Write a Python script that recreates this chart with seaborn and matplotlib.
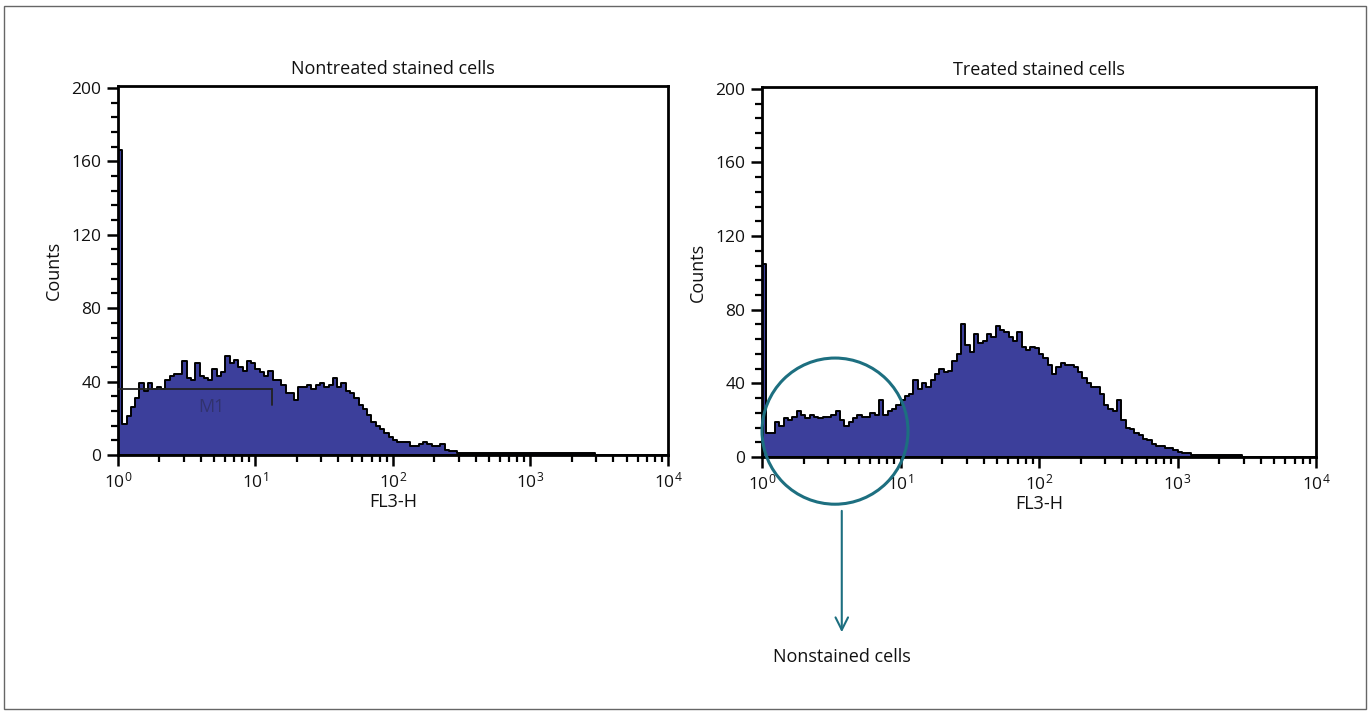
import numpy as np
import pandas as pd
import matplotlib
matplotlib.use("Agg")
import matplotlib.pyplot as plt
from matplotlib.patches import Ellipse, Rectangle
from matplotlib.ticker import LogLocator, MultipleLocator
import seaborn as sns

# histogram counts, 32 channels per decade on FL3-H (10^0 .. 10^4)
nontreated_counts = [
    166, 17, 21, 26, 31, 39, 35, 39, 36, 37, 36, 41, 43, 44, 44, 51,
    42, 41, 50, 43, 42, 41, 47, 43, 45, 54, 50, 52, 48, 46, 51, 50,
    47, 45, 43, 46, 41, 41, 38, 34, 34, 30, 37, 37, 38, 36, 38, 39,
    37, 38, 42, 37, 39, 35, 34, 31, 27, 25, 22, 18, 16, 14, 12, 10,
    8, 7, 7, 7, 5, 5, 6, 7, 6, 5, 5, 6, 3, 2, 2, 1,
    1, 1, 1, 1, 1, 1, 1, 1, 1, 1, 1, 1, 1, 1, 1, 1,
    1, 1, 1, 1, 1, 1, 1, 1, 1, 1, 1, 1, 1, 1, 1, 0,
    0, 0, 0, 0, 0, 0, 0, 0, 0, 0, 0, 0, 0, 0, 0, 0,
]
treated_counts = [
    105, 13, 13, 19, 17, 21, 20, 22, 25, 23, 21, 23, 22, 21, 22, 22,
    23, 25, 20, 17, 19, 21, 23, 22, 22, 24, 23, 31, 23, 25, 26, 28,
    31, 33, 34, 42, 37, 40, 38, 42, 45, 48, 46, 47, 52, 56, 72, 61,
    57, 67, 62, 63, 67, 65, 71, 69, 68, 65, 63, 68, 60, 58, 60, 59,
    56, 54, 50, 45, 49, 51, 50, 50, 49, 46, 43, 40, 38, 38, 34, 28,
    26, 25, 31, 20, 16, 15, 13, 12, 10, 9, 7, 6, 6, 5, 5, 4,
    3, 2, 2, 1, 1, 1, 1, 1, 1, 1, 1, 1, 1, 1, 1, 0,
    0, 0, 0, 0, 0, 0, 0, 0, 0, 0, 0, 0, 0, 0, 0, 0,
]
panel_titles = ["Nontreated stained cells", "Treated stained cells"]
y_ticks = [0, 40, 80, 120, 160, 200]
m1_level = 36
m1_end = 13.2

n_bins = len(nontreated_counts)
centers = 10 ** ((np.arange(n_bins) + 0.5) / 32)

df = pd.DataFrame({
    "FL3-H": np.concatenate([centers, centers]),
    "count": nontreated_counts + treated_counts,
    "sample": [panel_titles[0]] * n_bins + [panel_titles[1]] * n_bins,
})

sns.set_style("white")
plt.rcParams["font.family"] = ["Open Sans", "DejaVu Sans"]
plt.rcParams["mathtext.default"] = "regular"
plt.rcParams["text.color"] = "#111111"
plt.rcParams["axes.labelcolor"] = "#111111"
plt.rcParams["xtick.color"] = "black"
plt.rcParams["ytick.color"] = "black"
plt.rcParams["xtick.labelcolor"] = "#111111"
plt.rcParams["ytick.labelcolor"] = "#111111"

fig = plt.figure(figsize=(13.7, 7.15), dpi=100)
ax1 = fig.add_axes([0.0861, 0.3636, 0.4015, 0.5161])
ax2 = fig.add_axes([0.5562, 0.3608, 0.4044, 0.5175])

fill_col = "#3c3f9b"
teal = "#1d6f80"

for ax, title in zip([ax1, ax2], panel_titles):
    sub = df[df["sample"] == title]
    sns.histplot(data=sub, x="FL3-H", weights="count", bins=n_bins, binrange=(0, 4),
                 log_scale=True, element="step", fill=True, color=fill_col,
                 alpha=1, edgecolor="black", linewidth=1.4, ax=ax)
    ax.set_xlim(1, 1e4)
    ax.set_ylim(0, 201)
    ax.set_yticks(y_ticks)
    ax.yaxis.set_minor_locator(MultipleLocator(8))
    ax.xaxis.set_major_locator(LogLocator(base=10, numticks=10))
    ax.xaxis.set_minor_locator(LogLocator(base=10, subs=np.arange(2, 10), numticks=10))
    ax.tick_params(which="major", direction="out", length=8, width=1.8, labelsize=12.5,
                   left=True, bottom=True, pad=4)
    ax.tick_params(which="minor", direction="out", length=5, width=1.6, left=True, bottom=True)
    for s in ax.spines.values():
        s.set_linewidth(2)
        s.set_color("black")
    ax.set_title(title, fontsize=13, pad=9)
    ax.set_xlabel("FL3-H", fontsize=13, labelpad=1)
    ax.set_ylabel("Counts", fontsize=13, labelpad=6)

# M1 marker on the nontreated panel
ax1.plot([1, m1_end], [m1_level, m1_level], color="#222222", lw=1.3, zorder=5)
ax1.plot([m1_end, m1_end], [m1_level, m1_level - 9], color="#222222", lw=1.3, zorder=5)
ax1.text(4.8, 26, "M1", fontsize=13, color="#2a2a50", alpha=0.6, ha="center", va="center", zorder=5)

# circle and arrow pointing to the nonstained population
circ = Ellipse((0.1318, 0.070), 0.2635, 0.395, transform=ax2.transAxes, fill=False,
               edgecolor=teal, lw=2.2, clip_on=False, zorder=6)
ax2.add_patch(circ)
ax2.annotate("", xy=(0.144, -0.481), xytext=(0.144, -0.138), xycoords="axes fraction",
             arrowprops=dict(arrowstyle="->,head_length=0.9,head_width=0.45", color=teal, lw=1.5))
ax2.text(0.144, -0.54, "Nonstained cells", transform=ax2.transAxes, fontsize=13,
         ha="center", va="center")

fig.patches.append(Rectangle((0.003, 0.008), 0.994, 0.983, transform=fig.transFigure,
                             fill=False, edgecolor="#666666", lw=1))

fig.savefig("out.png", dpi=100)
